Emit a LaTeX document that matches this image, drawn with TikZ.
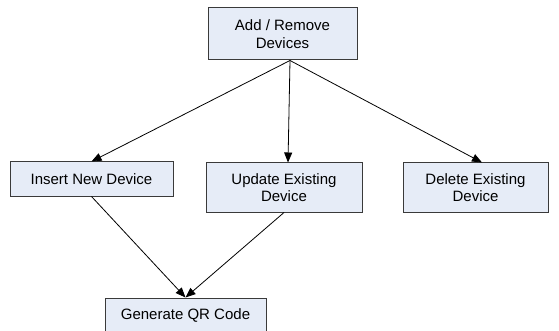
\documentclass[tikz,border=0pt]{standalone}
\usepackage{fontspec}
\setmainfont{Liberation Sans}
\usetikzlibrary{arrows.meta}
\definecolor{boxfill}{HTML}{E6ECF7}
\definecolor{boxline}{HTML}{3A3A3A}
\begin{document}
\begin{tikzpicture}[x=1pt,y=-1pt,
  box/.style={draw=boxline,fill=boxfill,line width=1pt,rectangle,inner sep=0pt,
    align=center,font=\fontsize{15}{17.5}\selectfont},
  arr/.style={draw=black,line width=0.8pt,-{Triangle[length=10pt,width=8pt]}}]
\useasboundingbox (0,0) rectangle (559,331);
\node[box,minimum width=149pt,minimum height=52pt] (add) at (282.5,34) {Add / Remove\\Devices};
\node[box,minimum width=163pt,minimum height=34pt] (ins) at (91.5,179) {Insert New Device};
\node[box,minimum width=156pt,minimum height=49pt] (upd) at (284,187.5) {Update Existing\\Device};
\node[box,minimum width=145pt,minimum height=49pt] (del) at (475.5,187.5) {Delete Existing\\Device};
\node[box,minimum width=161pt,minimum height=34pt] (gen) at (185.5,315) {Generate QR Code};
\coordinate (apex) at ([xshift=7.5pt]add.south);
\draw[arr] (apex) -- (ins.north);
\draw[arr] (apex) -- ([xshift=4pt]upd.north);
\draw[arr] (apex) -- ([xshift=6.5pt]del.north);
\draw[arr] (ins.south) -- (gen.north);
\draw[arr] (upd.south) -- (gen.north);
\end{tikzpicture}
\end{document}
